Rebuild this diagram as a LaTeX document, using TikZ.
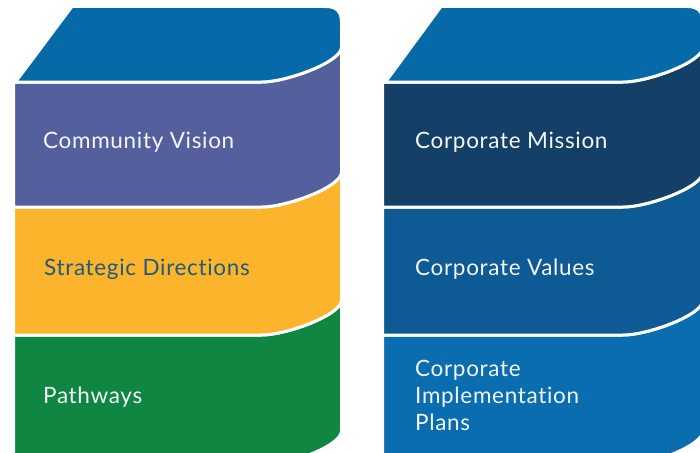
\documentclass[tikz,border=0pt]{standalone}
\usepackage{fontspec}
\setmainfont{Lato}[LetterSpace=3, Ligatures={NoCommon}]
\definecolor{topblue}{HTML}{0669A8}
\definecolor{cvpurple}{HTML}{54609E}
\definecolor{sdyellow}{HTML}{FBB42C}
\definecolor{pwgreen}{HTML}{0F8742}
\definecolor{cmnavy}{HTML}{143F66}
\definecolor{cvblue}{HTML}{0D5A94}
\definecolor{cpblue}{HTML}{0A6DAF}
\definecolor{sdtext}{HTML}{215A7C}
\definecolor{lighttext}{HTML}{F4F6FA}
% band: #1 left x, #2 right x, #3 top y, #4 bottom y, #5 colour
\newcommand\myband[5]{%
  \filldraw[fill=#5, draw=white, line width=3pt]
    (#1,#3) -- ({#2-80},#3) .. controls ({#2-55},#3) and (#2,{#3-20}) .. (#2,{#3-35})
    -- (#2,{#4-35}) .. controls (#2,{#4-20}) and ({#2-55},#4) .. ({#2-80},#4)
    -- (#1,#4) -- cycle;}
% top face: #1 bottom-left x, #2 top-left x, #3 right x, #4 top y, #5 bottom y
\newcommand\mytopface[5]{%
  \filldraw[fill=topblue, draw=white, line width=3pt]
    (#1,#5) -- (#2,#4) -- ({#3-16},#4) .. controls ({#3-5},#4) and (#3,{#4+5}) .. (#3,{#4+16})
    -- (#3,{#5-35}) .. controls (#3,{#5-20}) and ({#3-55},#5) .. ({#3-80},#5) -- cycle;}
\tikzset{
  lbl/.style={anchor=base west, inner sep=0pt, text=lighttext,
    font=\fontsize{22.5}{27}\selectfont},
}
\begin{document}
\begin{tikzpicture}[x=1pt, y=-1pt]
\useasboundingbox (0,0) rectangle (700,452);
\clip (0,0) rectangle (700,452);
% left stack
\myband{13.5}{341.5}{335}{466}{pwgreen}
\myband{13.5}{341.5}{207}{335}{sdyellow}
\myband{13.5}{341.5}{82}{207}{cvpurple}
\mytopface{15.5}{72}{341.5}{6.5}{82}
% right stack
\myband{382.5}{703}{335}{466}{cpblue}
\myband{382.5}{703}{207}{335}{cvblue}
\myband{382.5}{703}{82}{207}{cmnavy}
\mytopface{385.5}{441}{703}{6.5}{82}
% labels
\node[lbl] (cv) at (43,148) {Community Vision};
\node[lbl, text=sdtext] (sd) at (44,275) {Strategic Directions};
\node[lbl] (pw) at (43,403) {Pathways};
\node[lbl] (cm) at (415,148) {Corporate Mission};
\node[lbl] (cval) at (415,275) {Corporate Values};
\node[lbl, anchor=north west, align=left] (cip) at (415,360) {Corporate\\Implementation\\Plans};
\end{tikzpicture}
\end{document}
